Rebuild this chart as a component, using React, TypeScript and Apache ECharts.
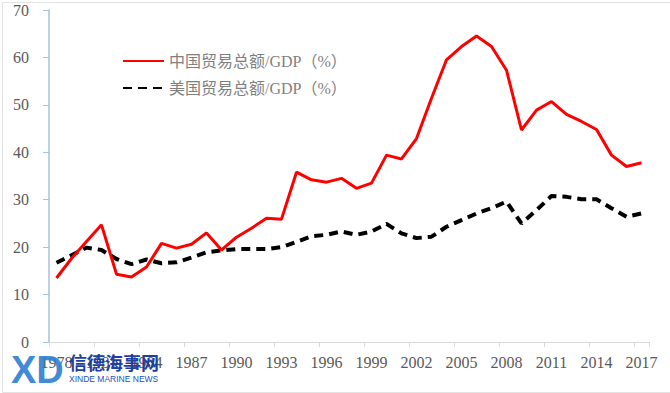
import React, { useEffect, useRef } from "react";
import * as echarts from "echarts";

const years: string[] = [];
for (let y = 1978; y <= 2017; y++) years.push(String(y));

const chinaName = "中国贸易总额/GDP（%）";
const usName = "美国贸易总额/GDP（%）";

const chinaValues = [
  13.5, 17.6, 21.2, 24.7, 14.3, 13.7, 15.8, 20.8, 19.8, 20.6,
  23.0, 19.4, 22.1, 24.0, 26.1, 25.9, 35.8, 34.2, 33.7, 34.5,
  32.4, 33.5, 39.4, 38.6, 42.9, 51.4, 59.5, 62.3, 64.5, 62.3,
  57.3, 44.7, 48.9, 50.7, 48.0, 46.5, 44.8, 39.4, 37.0, 37.8,
];

const usValues = [
  16.7, 18.3, 19.9, 19.4, 17.5, 16.4, 17.4, 16.6, 16.8, 17.8,
  18.9, 19.3, 19.6, 19.6, 19.6, 20.0, 21.1, 22.3, 22.6, 23.3,
  22.6, 23.3, 24.9, 22.9, 21.9, 22.2, 24.3, 25.7, 27.1, 28.2,
  29.6, 25.0, 27.8, 30.8, 30.6, 30.1, 30.1, 28.2, 26.4, 27.1,
];

const serif = "'Liberation Serif', 'Times New Roman', 'Noto Sans CJK SC', serif";

export default function App() {
  const ref = useRef<HTMLDivElement>(null);
  useEffect(() => {
    if (!ref.current) return;
    const chart = echarts.init(ref.current, undefined, { renderer: "svg" });
    chart.setOption({
      animation: false,
      backgroundColor: "#ffffff",
      grid: { left: 49, right: 21, top: 10, bottom: 51, containLabel: false },
      legend: {
        orient: "vertical",
        left: 117,
        top: 48,
        itemWidth: 41,
        itemHeight: 18,
        itemGap: 11,
        itemStyle: { opacity: 0 },
        textStyle: {
          color: "#7f7f7f",
          fontSize: 16,
          fontFamily: serif,
        },
        data: [chinaName, usName],
      },
      xAxis: {
        type: "category",
        data: years,
        boundaryGap: true,
        axisLine: { lineStyle: { color: "#d9d9d9", width: 1 } },
        axisTick: { show: true, interval: 2, length: 5, lineStyle: { color: "#d9d9d9" } },
        axisLabel: {
          interval: 2,
          color: "#595959",
          fontSize: 16,
          fontFamily: serif,
          margin: 12,
        },
        splitLine: { show: false },
      },
      yAxis: {
        type: "value",
        min: 0,
        max: 70,
        interval: 10,
        axisLine: { show: true, lineStyle: { color: "#a9bfe6", width: 1.5 } },
        axisTick: { show: true, length: 6, lineStyle: { color: "#a9bfe6" } },
        axisLabel: {
          color: "#595959",
          fontSize: 16,
          fontFamily: serif,
          margin: 20,
        },
        splitLine: { show: false },
      },
      series: [
        {
          name: chinaName,
          type: "line",
          data: chinaValues,
          symbol: "none",
          showSymbol: false,
          lineStyle: { color: "#ff0000", width: 3 },
          itemStyle: { color: "#ff0000" },
          z: 3,
        },
        {
          name: usName,
          type: "line",
          data: usValues,
          symbol: "none",
          showSymbol: false,
          lineStyle: { color: "#000000", width: 4, type: [9, 6] },
          itemStyle: { color: "#000000" },
          z: 2,
        },
      ],
      graphic: [
        {
          type: "rect",
          left: 0,
          top: 0,
          shape: { x: 0.5, y: 0.5, width: 668, height: 390 },
          style: { fill: "none", stroke: "#e3e3e3", lineWidth: 1 },
          silent: true,
          z: 0,
        },
        {
          type: "text",
          left: 11,
          top: 351,
          style: {
            text: "XD",
            fill: "#2f7fd2",
            font: "bold 38px 'Liberation Sans', Arial, sans-serif",
            opacity: 0.92,
          },
          z: 10,
        },
        {
          type: "text",
          left: 69,
          top: 353,
          style: {
            text: "信德海事网",
            fill: "#1d3f9e",
            font: "bold 18px 'Noto Sans CJK SC', sans-serif",
          },
          z: 10,
        },
        {
          type: "text",
          left: 69,
          top: 374,
          style: {
            text: "XINDE MARINE NEWS",
            fill: "#2350b5",
            font: "8.5px 'Liberation Sans', Arial, sans-serif",
          },
          z: 10,
        },
      ],
    });
    return () => chart.dispose();
  }, []);
  return (
    <div
      ref={ref}
      style={{ position: "fixed", left: 0, top: 0, width: 670, height: 393 }}
    />
  );
}
